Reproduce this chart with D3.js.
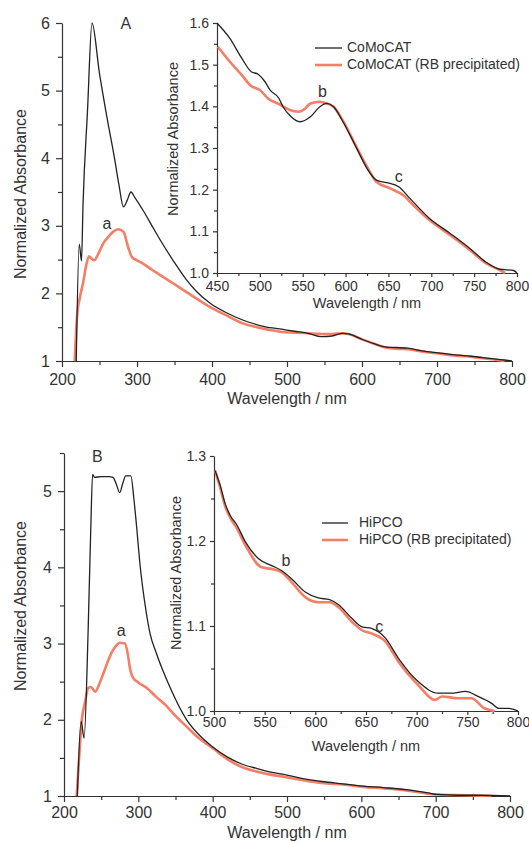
<!DOCTYPE html>
<html><head><meta charset="utf-8">
<script src="https://cdn.jsdelivr.net/npm/d3@7"></script>
<style>
html,body{margin:0;padding:0;background:#fff;}
svg{display:block;font-family:"Liberation Sans",Arial,sans-serif;}
.axis path,.axis line{stroke:#333;stroke-width:1.2;}
.axis text{fill:#333;}
</style></head><body>
<svg id="chart" width="529" height="843"></svg>
<script>
// ---------- DATA ----------
// Panel A main: [wavelength nm, normalized absorbance]
const comocat = [[219,1.0],[223,2.73],[226,2.48],[228,3.3],[234,4.7],[240,6.0],[250,5.25],[260,4.6],[270,4.0],[276,3.6],[282,3.28],[287,3.38],[292,3.5],[297,3.42],[308,3.23],[320,3.0],[331,2.79],[348,2.49],[366,2.2],[380,2.02],[398,1.85],[420,1.71],[440,1.61],[470,1.51],[493,1.47],[510,1.44],[528,1.41],[546,1.36],[560,1.37],[575,1.41],[582,1.40],[600,1.32],[615,1.26],[631,1.21],[661,1.19],[680,1.15],[702,1.12],[725,1.09],[746,1.07],[770,1.04],[790,1.015],[800,1.0]];
const comocatRB = [[217,1.0],[220,1.65],[224,1.95],[228,2.15],[232,2.4],[236,2.55],[239,2.52],[243,2.49],[249,2.6],[255,2.74],[262,2.84],[268,2.91],[275,2.95],[282,2.91],[288,2.69],[293,2.54],[300,2.49],[308,2.44],[320,2.35],[331,2.27],[348,2.15],[366,2.02],[380,1.92],[397,1.80],[420,1.67],[440,1.56],[460,1.50],[477,1.46],[493,1.43],[510,1.42],[528,1.41],[546,1.40],[560,1.40],[573,1.41],[582,1.40],[600,1.32],[615,1.26],[631,1.20],[650,1.18],[665,1.17],[680,1.14],[702,1.11],[725,1.08],[746,1.06],[770,1.03],[790,1.0]];
// Panel A inset
const comocatInset = [[450,1.600],[465,1.563],[479,1.515],[490,1.483],[498,1.477],[506,1.459],[512,1.439],[522,1.42],[527,1.399],[535,1.378],[547,1.363],[559,1.375],[570,1.399],[578,1.407],[586,1.399],[597,1.363],[613,1.299],[625,1.251],[636,1.223],[648,1.217],[662,1.207],[675,1.179],[698,1.131],[722,1.095],[745,1.059],[764,1.026],[780,1.009],[796,1.006],[800,1.0]];
const comocatRBInset = [[451,1.543],[465,1.507],[479,1.475],[489,1.45],[500,1.439],[510,1.418],[523,1.405],[535,1.391],[545,1.387],[553,1.395],[559,1.407],[570,1.411],[578,1.407],[586,1.399],[597,1.365],[613,1.301],[625,1.255],[636,1.219],[652,1.203],[667,1.187],[679,1.163],[698,1.127],[722,1.091],[745,1.055],[764,1.023],[780,1.007],[786,1.0]];
// Panel B main
const hipco = [[218,1.0],[223,1.98],[227,1.76],[232.5,3.18],[236,4.5],[238.5,5.22],[241,5.18],[250,5.19],[260,5.19],[266,5.18],[270,5.1],[275,4.98],[279,5.1],[283,5.2],[290,5.2],[294,4.9],[298,4.5],[302,4.06],[310,3.45],[316,3.12],[324,2.88],[342,2.44],[365,2.0],[380,1.82],[398,1.66],[420,1.51],[439,1.42],[460,1.36],[480,1.31],[497,1.28],[520,1.23],[547,1.19],[575,1.16],[603,1.13],[630,1.11],[663,1.08],[690,1.04],[702,1.02],[730,1.01],[760,1.01],[800,1.0]];
const hipcoRB = [[217,1.0],[221,1.6],[224,2.0],[228,2.22],[233,2.42],[236,2.43],[242,2.37],[248,2.48],[253,2.61],[258,2.74],[264,2.88],[270,2.97],[275,3.01],[282,3.0],[286,2.85],[289,2.66],[293,2.55],[300,2.49],[311,2.42],[324,2.30],[338,2.18],[350,2.05],[365,1.91],[380,1.77],[401,1.62],[420,1.48],[437,1.39],[455,1.33],[473,1.29],[497,1.25],[520,1.21],[547,1.17],[575,1.15],[603,1.12],[630,1.10],[663,1.07],[690,1.03],[702,1.02],[740,1.01],[775,1.0]];
// Panel B inset
const hipcoInset = [[501,1.283],[506,1.266],[511,1.244],[517,1.228],[522,1.220],[531,1.199],[544,1.179],[557,1.171],[567,1.165],[577,1.155],[590,1.140],[603,1.133],[614,1.131],[623,1.125],[636,1.109],[646,1.099],[656,1.097],[669,1.086],[682,1.062],[702,1.034],[721,1.021],[734,1.021],[748,1.023],[761,1.017],[774,1.009],[781,1.003],[791,1.003],[800,1.0]];
const hipcoRBInset = [[501,1.283],[506,1.263],[511,1.241],[517,1.225],[522,1.216],[531,1.195],[547,1.169],[557,1.167],[567,1.163],[577,1.151],[590,1.134],[603,1.128],[614,1.128],[623,1.122],[636,1.105],[646,1.095],[656,1.091],[669,1.082],[682,1.058],[702,1.030],[718,1.013],[725,1.017],[741,1.015],[754,1.015],[767,1.003],[777,1.0]];

const mainXTicks = [200,300,400,500,600,700,800];
const mainYTicksA = [1,2,3,4,5,6];
const mainYTicksB = [1,2,3,4,5];
const insetXTicksA = [450,500,550,600,650,700,750,800];
const insetYTicksA = [1.0,1.1,1.2,1.3,1.4,1.5,1.6];
const insetXTicksB = [500,550,600,650,700,750,800];
const insetYTicksB = [1.0,1.1,1.2,1.3];
const legendA = ["CoMoCAT","CoMoCAT (RB precipitated)"];
const legendB = ["HiPCO","HiPCO (RB precipitated)"];

// ---------- DRAW ----------
const svg = d3.select("#chart");
const BLACK = "#222", RED = "#f47e66";

function panel(o){
  const g = svg.append("g");
  const x = d3.scaleLinear().domain(o.xd).range(o.xr);
  const y = d3.scaleLinear().domain(o.yd).range(o.yr);
  g.append("g").attr("class","axis").attr("transform",`translate(0,${o.yr[0]})`)
    .call(d3.axisBottom(x).tickValues(o.xMinor).tickSize(o.minor).tickFormat(""))
    .select(".domain").remove();
  g.append("g").attr("class","axis").attr("transform",`translate(${o.xr[0]},0)`)
    .call(d3.axisLeft(y).tickValues(o.yMinor).tickSize(o.minor).tickFormat(""))
    .select(".domain").remove();
  const gx = g.append("g").attr("class","axis").attr("transform",`translate(0,${o.yr[0]})`)
    .call(d3.axisBottom(x).tickValues(o.xt).tickSize(o.major).tickSizeOuter(0).tickPadding(o.xpad).tickFormat(d3.format("d")));
  gx.selectAll("text").style("font-size",o.fs+"px");
  const gy = g.append("g").attr("class","axis").attr("transform",`translate(${o.xr[0]},0)`)
    .call(d3.axisLeft(y).tickValues(o.yt).tickSize(o.major).tickSizeOuter(0).tickPadding(o.ypad).tickFormat(o.yfmt));
  gy.selectAll("text").style("font-size",o.fs+"px");
  const line = d3.line().x(d=>x(d[0])).y(d=>y(d[1])).curve(d3.curveMonotoneX);
  g.append("path").datum(o.red).attr("d",line).attr("fill","none").attr("stroke",RED).attr("stroke-width",o.rw).attr("stroke-linejoin","round");
  g.append("path").datum(o.black).attr("d",line).attr("fill","none").attr("stroke",BLACK).attr("stroke-width",o.bw).attr("stroke-linejoin","round");
  g.append("text").attr("x",(o.xr[0]+o.xr[1])/2).attr("y",o.xTitleY).attr("text-anchor","middle")
    .style("font-size",o.tfs+"px").attr("fill","#333").text("Wavelength / nm");
  g.append("text").attr("transform",`translate(${o.yTitleX},${o.yTitleY}) rotate(-90)`).attr("text-anchor","middle")
    .attr("dominant-baseline","middle").style("font-size",o.tfs+"px").attr("fill","#333").text("Normalized Absorbance");
  return {x,y,g};
}
function range(a,b,s){const r=[];for(let v=a;v<=b+1e-9;v+=s)r.push(+v.toFixed(3));return r;}

const pA = panel({xd:[200,800],xr:[62,512],yd:[1,6],yr:[361,23],xt:mainXTicks,yt:mainYTicksA,
  xMinor:range(250,750,100),yMinor:range(1.5,5.5,1),major:6,minor:4,xpad:7,ypad:6,fs:16,tfs:16,
  yfmt:d3.format("d"),red:comocatRB,black:comocat,rw:2.6,bw:1.3,xTitleY:404,yTitleX:22,yTitleY:194});
const iA = panel({xd:[450,800],xr:[217,517],yd:[1.0,1.6],yr:[273,23],xt:insetXTicksA,yt:insetYTicksA,
  xMinor:range(475,775,50),yMinor:range(1.05,1.55,0.1),major:4,minor:3,xpad:4,ypad:4,fs:14,tfs:14.5,
  yfmt:d3.format(".1f"),red:comocatRBInset,black:comocatInset,rw:2.6,bw:1.3,xTitleY:308,yTitleX:174,yTitleY:139});
const pB = panel({xd:[200,800],xr:[64,510],yd:[1,5.5],yr:[796,453],xt:mainXTicks,yt:mainYTicksB,
  xMinor:range(250,750,100),yMinor:range(1.5,5.5,1),major:6,minor:4,xpad:5,ypad:6,fs:16,tfs:16,
  yfmt:d3.format("d"),red:hipcoRB,black:hipco,rw:2.6,bw:1.3,xTitleY:838,yTitleX:22,yTitleY:606});
const iB = panel({xd:[500,800],xr:[214,518],yd:[1.0,1.3],yr:[711,456],xt:insetXTicksB,yt:insetYTicksB,
  xMinor:range(525,775,50),yMinor:range(1.05,1.25,0.1),major:4,minor:3,xpad:2,ypad:4,fs:14,tfs:14.5,
  yfmt:d3.format(".1f"),red:hipcoRBInset,black:hipcoInset,rw:2.6,bw:1.3,xTitleY:751,yTitleX:177,yTitleY:573});

function legend(items,x0,x1,tx,ys){
  items.forEach((t,i)=>{
    svg.append("line").attr("x1",x0).attr("x2",x1).attr("y1",ys[i]).attr("y2",ys[i])
      .attr("stroke",i?RED:BLACK).attr("stroke-width",i?2.6:1.3);
    svg.append("text").attr("x",tx).attr("y",ys[i]).attr("dominant-baseline","middle")
      .style("font-size","14px").attr("fill","#333").text(t);
  });
}
legend(legendA,315,342,347,[48,65]);
legend(legendB,322,348,359,[523,540]);

function lab(t,x,y){svg.append("text").attr("x",x).attr("y",y).attr("text-anchor","middle")
  .attr("dominant-baseline","middle").style("font-size","16px").attr("fill","#333").text(t);}
lab("A",pA.x(285),25);
lab("a",pA.x(260),225);
lab("b",iA.x(573),93);
lab("c",iA.x(662),178);
lab("B",pB.x(245),458);
lab("a",pB.x(277),632);
lab("b",iB.x(571),562);
lab("c",iB.x(663),628);
</script></body></html>
